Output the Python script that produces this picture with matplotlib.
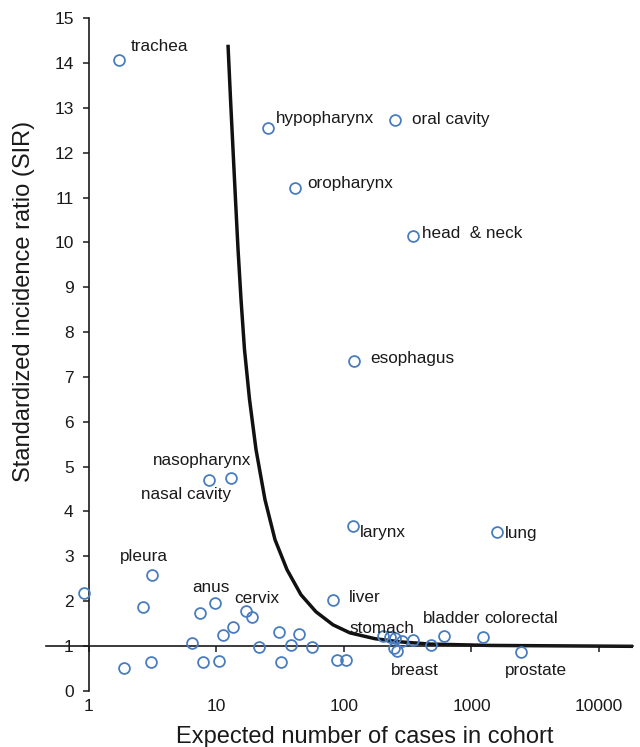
import matplotlib
matplotlib.use("Agg")
import matplotlib.pyplot as plt
from matplotlib.ticker import NullLocator, FixedLocator

plt.rcParams['font.family'] = ['Liberation Sans', 'DejaVu Sans']

# ---- data ----
site_names = ["trachea", "hypopharynx", "oral cavity", "oropharynx", "head  & neck",
              "esophagus", "nasopharynx", "nasal cavity", "larynx", "lung", "liver",
              "stomach", "bladder", "colorectal", "breast", "prostate", "pleura",
              "anus", "cervix"]
site_expected = [1.72, 25.5, 250, 41.5, 350, 120, 13.0, 8.8, 118, 1590, 82.5,
                 203, 612, 1224, 261, 2460, 3.10, 9.8, 17.0]
site_sir = [14.08, 12.56, 12.74, 11.21, 10.15, 7.36, 4.75, 4.71, 3.68, 3.54, 2.03,
            1.22, 1.22, 1.19, 0.89, 0.87, 2.59, 1.95, 1.77]

other_expected = [0.92, 2.67, 1.89, 3.05, 7.42, 6.46, 7.79, 10.4, 11.3, 13.4, 19.1,
                  21.7, 31.1, 32.0, 38.2, 44.4, 55.8, 87.7, 103.7, 230, 251, 285,
                  350, 247, 478]
other_sir = [2.18, 1.86, 0.51, 0.65, 1.74, 1.07, 0.63, 0.67, 1.24, 1.42, 1.64,
             0.97, 1.30, 0.63, 1.02, 1.27, 0.97, 0.69, 0.69, 1.19, 1.17, 1.10,
             1.13, 0.95, 1.01]

curve_expected = [12.31, 12.88, 13.47, 14.09, 14.75, 15.57, 16.58, 18.15, 20.41,
                  24.01, 28.76, 35.72, 45.99, 60.31, 81.98, 111.4, 175.0, 274.9,
                  472.6, 1397, 18480]
curve_sir = [14.41, 13.20, 12.08, 10.96, 9.85, 8.73, 7.61, 6.50, 5.38, 4.26, 3.37,
             2.70, 2.14, 1.76, 1.47, 1.29, 1.16, 1.09, 1.04, 1.01, 0.99]

x_ticks = [1, 10, 100, 1000, 10000]
x_tick_labels = ["1", "10", "100", "1000", "10000"]
y_ticks = list(range(0, 16))

# ---- label layout (pixel offsets from the point; ha) ----
label_layout = {
    "trachea": (12, 13, "left"),
    "hypopharynx": (8, 9, "left"),
    "oral cavity": (17, 0, "left"),
    "oropharynx": (12, 5, "left"),
    "head  & neck": (9, 2, "left"),
    "esophagus": (16, 2, "left"),
    "nasopharynx": (-29, 17, "center"),
    "nasal cavity": (-23, -15, "center"),
    "larynx": (7, -7, "left"),
    "lung": (8, -1, "left"),
    "liver": (16, 2, "left"),
    "stomach": (-1, 8, "center"),
    "bladder": (7, 18, "center"),
    "colorectal": (38, 19, "center"),
    "breast": (18, -20, "center"),
    "prostate": (15, -19, "center"),
    "pleura": (-8, 18, "center"),
    "anus": (-4, 16, "center"),
    "cervix": (11, 13, "center"),
}

W, H = 640, 747
fig = plt.figure(figsize=(W / 100, H / 100), dpi=100)
ax = fig.add_axes([46 / W, (H - 690.7) / H, (633 - 46) / W, (690.7 - 18.3) / H])

ax.set_xscale('log')
ax.set_xlim(0.46, 18480)
ax.set_ylim(0, 15)

blue = '#4a7dbf'
ink = '#1a1a1a'

ax.plot(curve_expected, curve_sir, color='#111111', lw=2.5, zorder=2,
        solid_capstyle='butt', solid_joinstyle='round')
ax.plot(other_expected, other_sir, ls='none', marker='o', ms=7.8, mew=1.3,
        mfc='none', mec=blue, zorder=3)
ax.plot(site_expected, site_sir, ls='none', marker='o', ms=7.8, mew=1.3,
        mfc='none', mec=blue, zorder=3)

for name, xv, yv in zip(site_names, site_expected, site_sir):
    dx, dy, ha = label_layout[name]
    ax.annotate(name, (xv, yv), xytext=(dx, dy), textcoords='offset pixels',
                ha=ha, va='center', fontsize=12.3, color=ink, zorder=4)

# spines
for s in ['top', 'right']:
    ax.spines[s].set_visible(False)
ax.spines['left'].set_position(('data', 1))
ax.spines['bottom'].set_position(('data', 1))
for s in ['left', 'bottom']:
    ax.spines[s].set_linewidth(1.2)
    ax.spines[s].set_color(ink)

ax.set_yticks(y_ticks)
ax.set_yticklabels([str(v) for v in y_ticks])
ax.tick_params(axis='y', direction='out', length=4, width=1.1, color=ink,
               labelsize=12.5, labelcolor=ink, pad=7)

ax.xaxis.set_major_locator(FixedLocator(x_ticks))
ax.xaxis.set_minor_locator(NullLocator())
ax.tick_params(axis='x', direction='out', length=4, width=1.1, color=ink,
               labelbottom=False)

sec = ax.secondary_xaxis(0)
sec.xaxis.set_major_locator(FixedLocator(x_ticks))
sec.xaxis.set_minor_locator(NullLocator())
sec.set_xticklabels(x_tick_labels)
sec.tick_params(axis='x', length=0, pad=6, labelsize=12.5, labelcolor=ink)
sec.spines['bottom'].set_visible(False)

fig.text(364.5 / W, (H - 736.5) / H, "Expected number of cases in cohort",
         ha='center', va='center', fontsize=17, color=ink)
fig.text(24 / W, (H - 301.5) / H, "Standardized incidence ratio (SIR)",
         ha='center', va='center', rotation=90, fontsize=17, color=ink)

fig.savefig('out.png', dpi=100)
